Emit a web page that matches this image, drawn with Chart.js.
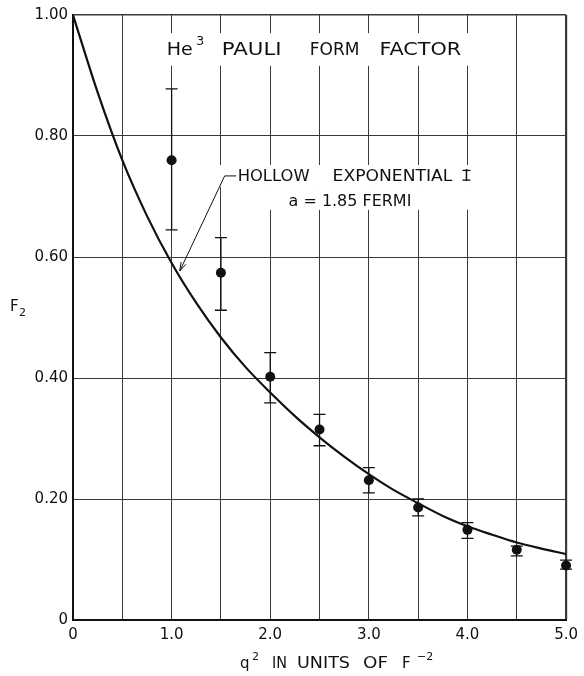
<!DOCTYPE html>
<html>
<head>
<meta charset="utf-8">
<script src="https://cdn.jsdelivr.net/npm/chart.js@4.4.1/dist/chart.umd.min.js"></script>
<style>
  html, body { margin: 0; padding: 0; background: #fff; }
</style>
</head>
<body>
<canvas id="formFactorChart" width="584" height="676"></canvas>
<script>
// Measured He3 form factor points (q^2 in F^-2)
const qSquared = [1.0, 1.5, 2.0, 2.5, 3.0, 3.5, 4.0, 4.5, 5.0];
const f2Measured = [0.760, 0.574, 0.402, 0.315, 0.231, 0.186, 0.149, 0.116, 0.090];
const errUpper = [0.878, 0.632, 0.442, 0.340, 0.252, 0.200, 0.161, 0.122, 0.099];
const errLower = [0.645, 0.512, 0.359, 0.288, 0.210, 0.172, 0.135, 0.106, 0.084];

// Hollow exponential I curve, a = 1.85 fermi
const curveQ = [0, 0.25, 0.5, 0.75, 1.0, 1.25, 1.5, 1.75, 2.0, 2.25, 2.5,
                2.75, 3.0, 3.25, 3.5, 3.75, 4.0, 4.25, 4.5, 4.75, 5.0];
const curveF2 = [1.000, 0.872, 0.760, 0.668, 0.590, 0.524, 0.467, 0.418, 0.376, 0.337, 0.302,
                 0.270, 0.241, 0.215, 0.193, 0.172, 0.155, 0.141, 0.128, 0.118, 0.109];

const FONT = '"DejaVu Sans", "Liberation Sans", sans-serif';
const INK = "#111";

// draw a word stretched horizontally so it runs from x0 to x1
function stretchText(ctx, text, x0, x1, y) {
    const w = ctx.measureText(text).width;
    ctx.save();
    ctx.textAlign = "left";
    ctx.translate(x0, y);
    ctx.scale((x1 - x0) / w, 1);
    ctx.fillText(text, 0, 0);
    ctx.restore();
}

// Error bars on the measured points
const errorBars = {
    id: "errorBars",
    afterDatasetsDraw(chart) {
        const { ctx, scales: { x, y } } = chart;
        ctx.save();
        ctx.strokeStyle = INK;
        ctx.lineWidth = 1.3;
        qSquared.forEach((q, i) => {
            const px = x.getPixelForValue(q);
            const top = y.getPixelForValue(errUpper[i]);
            const bot = y.getPixelForValue(errLower[i]);
            ctx.beginPath();
            ctx.moveTo(px, top); ctx.lineTo(px, bot);
            ctx.moveTo(px - 6, top); ctx.lineTo(px + 6, top);
            ctx.moveTo(px - 6, bot); ctx.lineTo(px + 6, bot);
            ctx.stroke();
        });
        ctx.restore();
    }
};

// Title, curve label, arrow and axis titles
const labels = {
    id: "labels",
    beforeDatasetsDraw(chart) {
        const { ctx, scales: { x, y } } = chart;
        const X = v => x.getPixelForValue(v);
        const Y = v => y.getPixelForValue(v);
        ctx.save();

        // white boxes that break the grid behind the text
        ctx.fillStyle = "#fff";
        ctx.fillRect(X(0.88), Y(0.970), X(4.10) - X(0.88), Y(0.916) - Y(0.970));
        ctx.fillRect(X(1.47), Y(0.752), X(4.12) - X(1.47), Y(0.716) - Y(0.752));
        ctx.fillRect(X(1.74), Y(0.716), X(4.12) - X(1.74), Y(0.678) - Y(0.716));

        ctx.fillStyle = INK;
        ctx.textBaseline = "alphabetic";
        ctx.textAlign = "left";

        // title
        const ty = Y(0.934);
        ctx.font = `17px ${FONT}`;
        stretchText(ctx, "He", X(0.951), X(1.215), ty);
        ctx.font = `12px ${FONT}`;
        stretchText(ctx, "3", X(1.250), X(1.330), Y(0.950));
        ctx.font = `17px ${FONT}`;
        stretchText(ctx, "PAULI", X(1.508), X(2.115), ty);
        stretchText(ctx, "FORM", X(2.400), X(2.905), ty);
        stretchText(ctx, "FACTOR", X(3.107), X(3.937), ty);

        // curve label
        const ly = Y(0.726);
        ctx.font = `15px ${FONT}`;
        stretchText(ctx, "HOLLOW", X(1.670), X(2.399), ly);
        stretchText(ctx, "EXPONENTIAL", X(2.632), X(3.846), ly);
        const ix = X(3.990);
        ctx.textAlign = "center";
        ctx.fillText("I", ix, ly);
        ctx.fillRect(ix - 4, ly - 11, 8, 1.3);
        ctx.fillRect(ix - 4, ly - 1.3, 8, 1.3);
        ctx.textAlign = "left";
        stretchText(ctx, "a = 1.85 FERMI", X(2.186), X(3.431), Y(0.684));

        // leader line with arrow
        const sx = X(1.538), sy = Y(0.734);
        const ex = X(1.083), ey = Y(0.577);
        ctx.strokeStyle = INK;
        ctx.lineWidth = 1;
        ctx.beginPath();
        ctx.moveTo(X(1.655), sy); ctx.lineTo(sx, sy);
        ctx.lineTo(ex, ey);
        ctx.stroke();
        const ang = Math.atan2(ey - sy, ex - sx);
        ctx.beginPath();
        ctx.moveTo(ex, ey);
        ctx.lineTo(ex - 9 * Math.cos(ang - 0.3), ey - 9 * Math.sin(ang - 0.3));
        ctx.moveTo(ex, ey);
        ctx.lineTo(ex - 9 * Math.cos(ang + 0.3), ey - 9 * Math.sin(ang + 0.3));
        ctx.stroke();

        // y axis title F2
        ctx.font = `15px ${FONT}`;
        ctx.fillText("F", 10, 311);
        ctx.font = `11px ${FONT}`;
        ctx.fillText("2", 19, 316);

        // x axis title
        const cx = chart.chartArea.left;
        ctx.font = `15px ${FONT}`;
        ctx.fillText("q", cx + 167, 668);
        ctx.font = `11px ${FONT}`;
        ctx.fillText("2", cx + 179, 660);
        ctx.font = `15px ${FONT}`;
        stretchText(ctx, "IN", cx + 199, cx + 214, 668);
        stretchText(ctx, "UNITS", cx + 224, cx + 277, 668);
        stretchText(ctx, "OF", cx + 290, cx + 315, 668);
        ctx.fillText("F", cx + 329, 668);
        ctx.font = `11px ${FONT}`;
        ctx.fillText("\u2212" + "2", cx + 344, 660);

        ctx.restore();
    }
};

const ctx = document.getElementById("formFactorChart").getContext("2d");
new Chart(ctx, {
    type: "scatter",
    data: {
        datasets: [
            {
                label: "Hollow exponential I",
                data: curveQ.map((q, i) => ({ x: q, y: curveF2[i] })),
                showLine: true,
                borderColor: INK,
                borderWidth: 2.2,
                pointRadius: 0,
                cubicInterpolationMode: "monotone",
                fill: false,
            },
            {
                label: "Measured F2",
                data: qSquared.map((q, i) => ({ x: q, y: f2Measured[i] })),
                showLine: false,
                clip: false,
                pointRadius: 5,
                pointBackgroundColor: INK,
                pointBorderColor: INK,
                pointBorderWidth: 0,
            },
        ],
    },
    options: {
        responsive: false,
        animation: false,
        events: [],
        layout: { padding: { top: 15, right: 17, left: 0, bottom: 0 } },
        plugins: {
            legend: { display: false },
            tooltip: { enabled: false },
        },
        scales: {
            x: {
                type: "linear",
                min: 0,
                max: 5,
                afterFit: s => { s.height = 56; },
                grid: {
                    color: "#3a3a3a",
                    lineWidth: c => (c.tick && c.tick.value === 5 ? 2.2 : 1),
                    drawTicks: false,
                },
                border: { display: true, color: INK, width: 2 },
                ticks: {
                    stepSize: 0.5,
                    padding: 6,
                    color: INK,
                    font: { family: FONT, size: 15 },
                    maxRotation: 0,
                    autoSkip: false,
                    callback: v => (Number.isInteger(v) ? (v === 0 ? "0" : v.toFixed(1)) : ""),
                },
            },
            y: {
                type: "linear",
                min: 0,
                max: 1,
                afterFit: s => { s.width = 73; },
                grid: {
                    color: "#3a3a3a",
                    lineWidth: c => (c.tick && c.tick.value === 1 ? 1.5 : 1),
                    drawTicks: false,
                },
                border: { display: true, color: INK, width: 2 },
                ticks: {
                    stepSize: 0.2,
                    padding: 5,
                    color: INK,
                    font: { family: FONT, size: 15 },
                    callback: v => (v === 0 ? "0" : v.toFixed(2)),
                },
            },
        },
    },
    plugins: [labels, errorBars],
});
</script>
</body>
</html>
